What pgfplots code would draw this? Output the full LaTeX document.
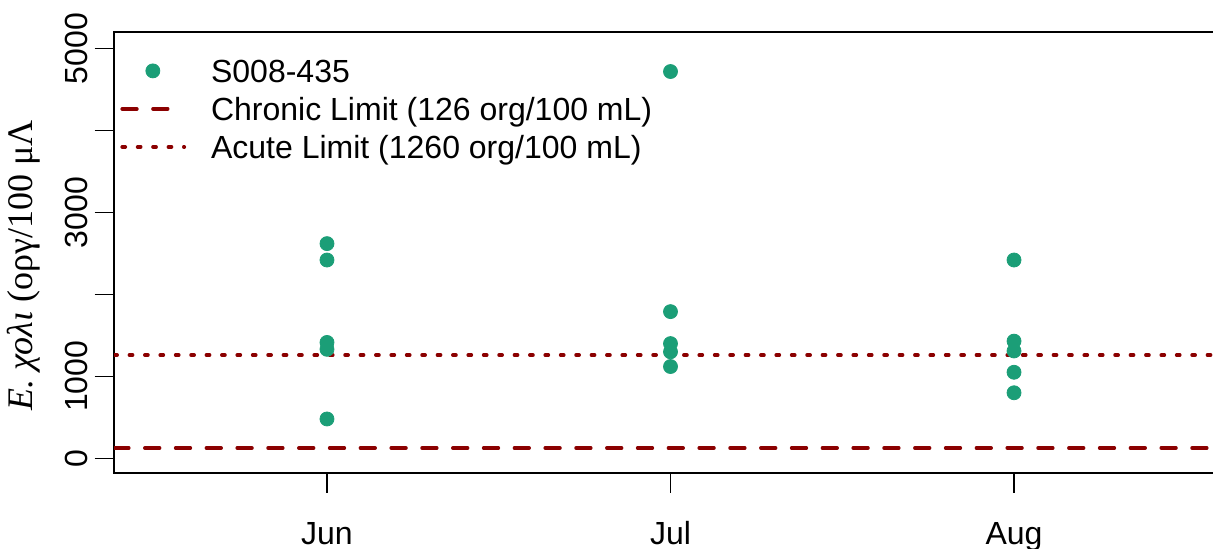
\documentclass[border=0pt]{standalone}
\usepackage{pgfplots}
\pgfplotsset{compat=1.18}
\usepackage{fontspec}
\setmainfont{Liberation Sans}
\newfontfamily\serifgr{Liberation Serif}
\definecolor{dgreen}{HTML}{1B9E77}
\definecolor{dred}{HTML}{8B0000}
\begin{document}
\begin{tikzpicture}
\begin{axis}[
  scale only axis, width=556.5pt, height=220.5pt,
  at={(0,0)}, anchor=south west,
  xmin=0.38, xmax=3.62, ymin=-183, ymax=5199,
  xtick={1,2,3}, xticklabels={Jun,Jul,Aug},
  ytick={0,1000,2000,3000,4000,5000}, yticklabels={0,1000,,3000,,5000},
  xtick pos=bottom, ytick pos=left,
  tick align=outside, major tick length=9.7pt,
  every tick/.style={black, line width=0.75pt},
  axis line style={line width=1pt},
  /pgf/number format/assume math mode=true,
  ticklabel style={font=\fontsize{16}{19}\selectfont},
  yticklabel style={xshift=-3.75pt, rotate=90, anchor=base},
  xticklabel style={anchor=base, yshift=-25.9pt},
  ylabel={\serifgr\itshape E. χολι \upshape (οργ/100 μΛ},
  every axis y label/.style={at={(axis description cs:0,0.472)}, rotate=90, anchor=base, yshift=40.5pt, font=\fontsize{18}{21}\selectfont},
  legend cell align=left,
  legend style={draw=none, fill=none, inner sep=0pt, at={(0,1)}, anchor=north west, xshift=3pt, yshift=-13.6pt,
    row sep=4pt, column sep=12.5pt,
    nodes={inner sep=0pt, text height=11.5pt, text depth=3.5pt, font=\fontsize{16}{19}\selectfont}},
]
\addplot[only marks, mark=*, mark size=3.5pt, color=dgreen,
  legend image code/.code={\fill[dgreen] (16.25pt,2pt) circle (3.5pt);}]
  coordinates {
  (1,2620) (1,2420) (1,1414) (1,1330) (1,480)
  (2,4720) (2,1790) (2,1400) (2,1300) (2,1120)
  (3,2420) (3,1430) (3,1310) (3,1050) (3,800)
  };
\addlegendentry{S008-435}
\addplot[dred, line width=1.75pt, line cap=round, dash pattern=on 7.4pt off 8pt,
  legend image code/.code={\draw[dred, line width=1.75pt, line cap=round, dash pattern=on 7.4pt off 8pt] (0.9pt,2pt) -- (31.6pt,2pt);}]
  coordinates {(0.38,126) (3.62,126)};
\addlegendentry{Chronic Limit (126 org/100 mL)}
\addplot[dred, line width=1.75pt, line cap=round, dash pattern=on 1.6pt off 6.1pt,
  legend image code/.code={\draw[dred, line width=1.75pt, line cap=round, dash pattern=on 1.6pt off 6.1pt] (0.9pt,2pt) -- (32pt,2pt);}]
  coordinates {(0.38,1260) (3.62,1260)};
\addlegendentry{Acute Limit (1260 org/100 mL)}
\end{axis}
\pgfresetboundingbox
\useasboundingbox (-57pt,-37.35pt) rectangle (549.5pt,236.65pt);
\end{tikzpicture}
\end{document}
